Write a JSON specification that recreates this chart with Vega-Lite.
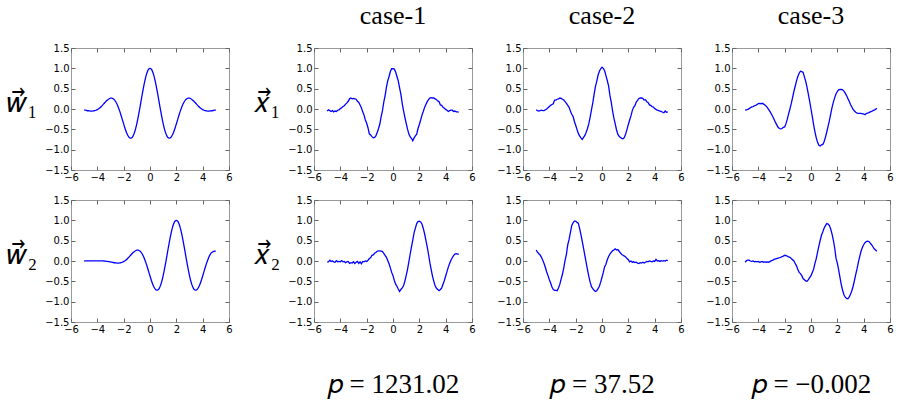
{
"$schema":"https://vega.github.io/schema/vega-lite/v6.json",
"background":"white",
"padding":{"left":6,"top":2,"right":5,"bottom":5},
"config":{
"view":{"stroke":"#999999","strokeWidth":1},
"axis":{"domain":false,"grid":false,"labelFont":"DejaVu Sans","labelFontSize":10,"labelColor":"#000000","tickColor":"#666666","tickSize":-4,"tickWidth":1,"labelPadding":6,"labelFlush":false,"labelOverlap":false,"titleFont":"Liberation Serif","titleFontWeight":"normal","titleColor":"#000000"},
"title":{"font":"Liberation Serif","fontSize":26,"fontWeight":"normal","color":"#000000","frame":"group","anchor":"middle","baseline":"alphabetic","offset":14}
},
"datasets":{
"w1":[{"x":-5,"y":-0.024},{"x":-4.9,"y":-0.03},{"x":-4.8,"y":-0.037},{"x":-4.7,"y":-0.043},{"x":-4.6,"y":-0.047},{"x":-4.5,"y":-0.05},{"x":-4.4,"y":-0.051},{"x":-4.3,"y":-0.048},{"x":-4.2,"y":-0.042},{"x":-4.1,"y":-0.031},{"x":-4,"y":-0.015},{"x":-3.9,"y":0.006},{"x":-3.8,"y":0.032},{"x":-3.7,"y":0.062},{"x":-3.6,"y":0.096},{"x":-3.5,"y":0.131},{"x":-3.4,"y":0.167},{"x":-3.3,"y":0.201},{"x":-3.2,"y":0.23},{"x":-3.1,"y":0.253},{"x":-3,"y":0.265},{"x":-2.9,"y":0.266},{"x":-2.8,"y":0.253},{"x":-2.7,"y":0.224},{"x":-2.6,"y":0.178},{"x":-2.5,"y":0.116},{"x":-2.4,"y":0.038},{"x":-2.3,"y":-0.053},{"x":-2.2,"y":-0.154},{"x":-2.1,"y":-0.261},{"x":-2,"y":-0.369},{"x":-1.9,"y":-0.472},{"x":-1.8,"y":-0.565},{"x":-1.7,"y":-0.64},{"x":-1.6,"y":-0.693},{"x":-1.5,"y":-0.718},{"x":-1.4,"y":-0.712},{"x":-1.3,"y":-0.673},{"x":-1.2,"y":-0.6},{"x":-1.1,"y":-0.495},{"x":-1,"y":-0.361},{"x":-0.9,"y":-0.202},{"x":-0.8,"y":-0.027},{"x":-0.7,"y":0.159},{"x":-0.6,"y":0.344},{"x":-0.5,"y":0.521},{"x":-0.4,"y":0.681},{"x":-0.3,"y":0.815},{"x":-0.2,"y":0.916},{"x":-0.1,"y":0.979},{"x":0,"y":1},{"x":0.1,"y":0.979},{"x":0.2,"y":0.916},{"x":0.3,"y":0.815},{"x":0.4,"y":0.681},{"x":0.5,"y":0.521},{"x":0.6,"y":0.344},{"x":0.7,"y":0.159},{"x":0.8,"y":-0.027},{"x":0.9,"y":-0.202},{"x":1,"y":-0.361},{"x":1.1,"y":-0.495},{"x":1.2,"y":-0.6},{"x":1.3,"y":-0.673},{"x":1.4,"y":-0.712},{"x":1.5,"y":-0.718},{"x":1.6,"y":-0.693},{"x":1.7,"y":-0.64},{"x":1.8,"y":-0.565},{"x":1.9,"y":-0.472},{"x":2,"y":-0.369},{"x":2.1,"y":-0.261},{"x":2.2,"y":-0.154},{"x":2.3,"y":-0.053},{"x":2.4,"y":0.038},{"x":2.5,"y":0.116},{"x":2.6,"y":0.178},{"x":2.7,"y":0.224},{"x":2.8,"y":0.253},{"x":2.9,"y":0.266},{"x":3,"y":0.265},{"x":3.1,"y":0.253},{"x":3.2,"y":0.23},{"x":3.3,"y":0.201},{"x":3.4,"y":0.167},{"x":3.5,"y":0.131},{"x":3.6,"y":0.096},{"x":3.7,"y":0.062},{"x":3.8,"y":0.032},{"x":3.9,"y":0.006},{"x":4,"y":-0.015},{"x":4.1,"y":-0.031},{"x":4.2,"y":-0.042},{"x":4.3,"y":-0.048},{"x":4.4,"y":-0.051},{"x":4.5,"y":-0.05},{"x":4.6,"y":-0.047},{"x":4.7,"y":-0.043},{"x":4.8,"y":-0.037},{"x":4.9,"y":-0.03},{"x":5,"y":-0.024}],
"w2":[{"x":-5,"y":0},{"x":-4.9,"y":0.001},{"x":-4.8,"y":0.001},{"x":-4.7,"y":0.001},{"x":-4.6,"y":0.002},{"x":-4.5,"y":0.002},{"x":-4.4,"y":0.003},{"x":-4.3,"y":0.003},{"x":-4.2,"y":0.004},{"x":-4.1,"y":0.004},{"x":-4,"y":0.005},{"x":-3.9,"y":0.005},{"x":-3.8,"y":0.005},{"x":-3.7,"y":0.004},{"x":-3.6,"y":0.002},{"x":-3.5,"y":0},{"x":-3.4,"y":-0.003},{"x":-3.3,"y":-0.007},{"x":-3.2,"y":-0.012},{"x":-3.1,"y":-0.017},{"x":-3,"y":-0.024},{"x":-2.9,"y":-0.03},{"x":-2.8,"y":-0.037},{"x":-2.7,"y":-0.043},{"x":-2.6,"y":-0.047},{"x":-2.5,"y":-0.05},{"x":-2.4,"y":-0.051},{"x":-2.3,"y":-0.048},{"x":-2.2,"y":-0.042},{"x":-2.1,"y":-0.031},{"x":-2,"y":-0.015},{"x":-1.9,"y":0.006},{"x":-1.8,"y":0.032},{"x":-1.7,"y":0.062},{"x":-1.6,"y":0.096},{"x":-1.5,"y":0.131},{"x":-1.4,"y":0.167},{"x":-1.3,"y":0.201},{"x":-1.2,"y":0.23},{"x":-1.1,"y":0.253},{"x":-1,"y":0.265},{"x":-0.9,"y":0.266},{"x":-0.8,"y":0.253},{"x":-0.7,"y":0.224},{"x":-0.6,"y":0.178},{"x":-0.5,"y":0.116},{"x":-0.4,"y":0.038},{"x":-0.3,"y":-0.053},{"x":-0.2,"y":-0.154},{"x":-0.1,"y":-0.261},{"x":0,"y":-0.369},{"x":0.1,"y":-0.472},{"x":0.2,"y":-0.565},{"x":0.3,"y":-0.64},{"x":0.4,"y":-0.693},{"x":0.5,"y":-0.718},{"x":0.6,"y":-0.712},{"x":0.7,"y":-0.673},{"x":0.8,"y":-0.6},{"x":0.9,"y":-0.495},{"x":1,"y":-0.361},{"x":1.1,"y":-0.202},{"x":1.2,"y":-0.027},{"x":1.3,"y":0.159},{"x":1.4,"y":0.344},{"x":1.5,"y":0.521},{"x":1.6,"y":0.681},{"x":1.7,"y":0.815},{"x":1.8,"y":0.916},{"x":1.9,"y":0.979},{"x":2,"y":1},{"x":2.1,"y":0.979},{"x":2.2,"y":0.916},{"x":2.3,"y":0.815},{"x":2.4,"y":0.681},{"x":2.5,"y":0.521},{"x":2.6,"y":0.344},{"x":2.7,"y":0.159},{"x":2.8,"y":-0.027},{"x":2.9,"y":-0.202},{"x":3,"y":-0.361},{"x":3.1,"y":-0.495},{"x":3.2,"y":-0.6},{"x":3.3,"y":-0.673},{"x":3.4,"y":-0.712},{"x":3.5,"y":-0.718},{"x":3.6,"y":-0.693},{"x":3.7,"y":-0.64},{"x":3.8,"y":-0.565},{"x":3.9,"y":-0.472},{"x":4,"y":-0.369},{"x":4.1,"y":-0.261},{"x":4.2,"y":-0.154},{"x":4.3,"y":-0.053},{"x":4.4,"y":0.038},{"x":4.5,"y":0.116},{"x":4.6,"y":0.178},{"x":4.7,"y":0.21},{"x":4.8,"y":0.23},{"x":4.9,"y":0.24},{"x":5,"y":0.245}],
"a1":[{"x":-5,"y":-0.05},{"x":-4.9,"y":-0.02},{"x":-4.8,"y":-0.04},{"x":-4.7,"y":-0.06},{"x":-4.6,"y":-0.04},{"x":-4.5,"y":-0.07},{"x":-4.4,"y":-0.05},{"x":-4.3,"y":-0.06},{"x":-4.2,"y":-0.03},{"x":-4.1,"y":-0.02},{"x":-4,"y":0.01},{"x":-3.9,"y":0.03},{"x":-3.8,"y":0.06},{"x":-3.7,"y":0.08},{"x":-3.6,"y":0.12},{"x":-3.5,"y":0.15},{"x":-3.4,"y":0.19},{"x":-3.3,"y":0.25},{"x":-3.2,"y":0.27},{"x":-3.1,"y":0.25},{"x":-3,"y":0.26},{"x":-2.9,"y":0.25},{"x":-2.8,"y":0.24},{"x":-2.7,"y":0.19},{"x":-2.6,"y":0.16},{"x":-2.5,"y":0.1},{"x":-2.4,"y":0.03},{"x":-2.3,"y":-0.07},{"x":-2.2,"y":-0.15},{"x":-2.1,"y":-0.27},{"x":-2,"y":-0.35},{"x":-1.9,"y":-0.46},{"x":-1.8,"y":-0.61},{"x":-1.7,"y":-0.64},{"x":-1.6,"y":-0.68},{"x":-1.5,"y":-0.71},{"x":-1.4,"y":-0.7},{"x":-1.3,"y":-0.66},{"x":-1.2,"y":-0.58},{"x":-1.1,"y":-0.48},{"x":-1,"y":-0.37},{"x":-0.9,"y":-0.19},{"x":-0.8,"y":-0.04},{"x":-0.7,"y":0.17},{"x":-0.6,"y":0.33},{"x":-0.5,"y":0.53},{"x":-0.4,"y":0.69},{"x":-0.3,"y":0.8},{"x":-0.2,"y":0.92},{"x":-0.1,"y":0.99},{"x":0,"y":0.99},{"x":0.1,"y":0.98},{"x":0.2,"y":0.91},{"x":0.3,"y":0.8},{"x":0.4,"y":0.69},{"x":0.5,"y":0.52},{"x":0.6,"y":0.36},{"x":0.7,"y":0.14},{"x":0.8,"y":-0.04},{"x":0.9,"y":-0.2},{"x":1,"y":-0.35},{"x":1.1,"y":-0.49},{"x":1.2,"y":-0.61},{"x":1.3,"y":-0.68},{"x":1.4,"y":-0.72},{"x":1.5,"y":-0.78},{"x":1.6,"y":-0.71},{"x":1.7,"y":-0.66},{"x":1.8,"y":-0.62},{"x":1.9,"y":-0.48},{"x":2,"y":-0.38},{"x":2.1,"y":-0.27},{"x":2.2,"y":-0.15},{"x":2.3,"y":-0.06},{"x":2.4,"y":0.04},{"x":2.5,"y":0.11},{"x":2.6,"y":0.18},{"x":2.7,"y":0.23},{"x":2.8,"y":0.27},{"x":2.9,"y":0.28},{"x":3,"y":0.27},{"x":3.1,"y":0.27},{"x":3.2,"y":0.25},{"x":3.3,"y":0.23},{"x":3.4,"y":0.2},{"x":3.5,"y":0.18},{"x":3.6,"y":0.1},{"x":3.7,"y":0.09},{"x":3.8,"y":0.04},{"x":3.9,"y":0.02},{"x":4,"y":-0.01},{"x":4.1,"y":-0.03},{"x":4.2,"y":-0.06},{"x":4.3,"y":-0.04},{"x":4.4,"y":-0.03},{"x":4.5,"y":-0.03},{"x":4.6,"y":-0.06},{"x":4.7,"y":-0.05},{"x":4.8,"y":-0.07},{"x":4.9,"y":-0.07},{"x":5,"y":-0.08}],
"a2":[{"x":-5,"y":-0.02},{"x":-4.9,"y":-0.02},{"x":-4.8,"y":0.02},{"x":-4.7,"y":-0.01},{"x":-4.6,"y":0},{"x":-4.5,"y":-0.02},{"x":-4.4,"y":-0.03},{"x":-4.3,"y":0.01},{"x":-4.2,"y":-0.02},{"x":-4.1,"y":-0.01},{"x":-4,"y":-0.02},{"x":-3.9,"y":0.01},{"x":-3.8,"y":-0.02},{"x":-3.7,"y":-0.01},{"x":-3.6,"y":-0.04},{"x":-3.5,"y":-0.02},{"x":-3.4,"y":-0.01},{"x":-3.3,"y":-0.06},{"x":-3.2,"y":-0.04},{"x":-3.1,"y":-0.05},{"x":-3,"y":-0.02},{"x":-2.9,"y":-0.06},{"x":-2.8,"y":-0.03},{"x":-2.7,"y":-0.01},{"x":-2.6,"y":-0.06},{"x":-2.5,"y":-0.02},{"x":-2.4,"y":-0.07},{"x":-2.3,"y":-0.01},{"x":-2.2,"y":-0.02},{"x":-2.1,"y":0},{"x":-2,"y":-0.01},{"x":-1.9,"y":0.02},{"x":-1.8,"y":0.06},{"x":-1.7,"y":0.08},{"x":-1.6,"y":0.14},{"x":-1.5,"y":0.15},{"x":-1.4,"y":0.19},{"x":-1.3,"y":0.21},{"x":-1.2,"y":0.24},{"x":-1.1,"y":0.25},{"x":-1,"y":0.25},{"x":-0.9,"y":0.24},{"x":-0.8,"y":0.23},{"x":-0.7,"y":0.19},{"x":-0.6,"y":0.14},{"x":-0.5,"y":0.09},{"x":-0.4,"y":0.01},{"x":-0.3,"y":-0.07},{"x":-0.2,"y":-0.17},{"x":-0.1,"y":-0.28},{"x":0,"y":-0.36},{"x":0.1,"y":-0.48},{"x":0.2,"y":-0.57},{"x":0.3,"y":-0.62},{"x":0.4,"y":-0.69},{"x":0.5,"y":-0.75},{"x":0.6,"y":-0.7},{"x":0.7,"y":-0.66},{"x":0.8,"y":-0.61},{"x":0.9,"y":-0.5},{"x":1,"y":-0.36},{"x":1.1,"y":-0.21},{"x":1.2,"y":-0.03},{"x":1.3,"y":0.16},{"x":1.4,"y":0.34},{"x":1.5,"y":0.51},{"x":1.6,"y":0.69},{"x":1.7,"y":0.81},{"x":1.8,"y":0.92},{"x":1.9,"y":0.97},{"x":2,"y":0.98},{"x":2.1,"y":0.96},{"x":2.2,"y":0.91},{"x":2.3,"y":0.8},{"x":2.4,"y":0.67},{"x":2.5,"y":0.51},{"x":2.6,"y":0.35},{"x":2.7,"y":0.16},{"x":2.8,"y":-0.04},{"x":2.9,"y":-0.21},{"x":3,"y":-0.37},{"x":3.1,"y":-0.5},{"x":3.2,"y":-0.61},{"x":3.3,"y":-0.67},{"x":3.4,"y":-0.7},{"x":3.5,"y":-0.73},{"x":3.6,"y":-0.7},{"x":3.7,"y":-0.66},{"x":3.8,"y":-0.57},{"x":3.9,"y":-0.48},{"x":4,"y":-0.37},{"x":4.1,"y":-0.26},{"x":4.2,"y":-0.15},{"x":4.3,"y":-0.06},{"x":4.4,"y":0.02},{"x":4.5,"y":0.08},{"x":4.6,"y":0.13},{"x":4.7,"y":0.17},{"x":4.8,"y":0.18},{"x":4.9,"y":0.17},{"x":5,"y":0.17}],
"b1":[{"x":-5,"y":-0.02},{"x":-4.9,"y":-0.04},{"x":-4.8,"y":-0.05},{"x":-4.7,"y":-0.04},{"x":-4.6,"y":-0.03},{"x":-4.5,"y":-0.04},{"x":-4.4,"y":-0.04},{"x":-4.3,"y":-0.02},{"x":-4.2,"y":0},{"x":-4.1,"y":0.03},{"x":-4,"y":0.06},{"x":-3.9,"y":0.09},{"x":-3.8,"y":0.11},{"x":-3.7,"y":0.13},{"x":-3.6,"y":0.22},{"x":-3.5,"y":0.22},{"x":-3.4,"y":0.24},{"x":-3.3,"y":0.25},{"x":-3.2,"y":0.27},{"x":-3.1,"y":0.26},{"x":-3,"y":0.24},{"x":-2.9,"y":0.22},{"x":-2.8,"y":0.18},{"x":-2.7,"y":0.14},{"x":-2.6,"y":0.09},{"x":-2.5,"y":0.04},{"x":-2.4,"y":-0.05},{"x":-2.3,"y":-0.13},{"x":-2.2,"y":-0.18},{"x":-2.1,"y":-0.3},{"x":-2,"y":-0.4},{"x":-1.9,"y":-0.5},{"x":-1.8,"y":-0.6},{"x":-1.7,"y":-0.66},{"x":-1.6,"y":-0.71},{"x":-1.5,"y":-0.75},{"x":-1.4,"y":-0.7},{"x":-1.3,"y":-0.65},{"x":-1.2,"y":-0.57},{"x":-1.1,"y":-0.48},{"x":-1,"y":-0.36},{"x":-0.9,"y":-0.2},{"x":-0.8,"y":-0.02},{"x":-0.7,"y":0.15},{"x":-0.6,"y":0.36},{"x":-0.5,"y":0.55},{"x":-0.4,"y":0.68},{"x":-0.3,"y":0.83},{"x":-0.2,"y":0.93},{"x":-0.1,"y":0.99},{"x":0,"y":1.03},{"x":0.1,"y":1},{"x":0.2,"y":0.94},{"x":0.3,"y":0.82},{"x":0.4,"y":0.7},{"x":0.5,"y":0.57},{"x":0.6,"y":0.34},{"x":0.7,"y":0.17},{"x":0.8,"y":-0.04},{"x":0.9,"y":-0.22},{"x":1,"y":-0.36},{"x":1.1,"y":-0.51},{"x":1.2,"y":-0.62},{"x":1.3,"y":-0.67},{"x":1.4,"y":-0.7},{"x":1.5,"y":-0.72},{"x":1.6,"y":-0.73},{"x":1.7,"y":-0.7},{"x":1.8,"y":-0.61},{"x":1.9,"y":-0.5},{"x":2,"y":-0.38},{"x":2.1,"y":-0.27},{"x":2.2,"y":-0.17},{"x":2.3,"y":-0.04},{"x":2.4,"y":0.04},{"x":2.5,"y":0.08},{"x":2.6,"y":0.17},{"x":2.7,"y":0.21},{"x":2.8,"y":0.26},{"x":2.9,"y":0.27},{"x":3,"y":0.27},{"x":3.1,"y":0.26},{"x":3.2,"y":0.22},{"x":3.3,"y":0.23},{"x":3.4,"y":0.18},{"x":3.5,"y":0.16},{"x":3.6,"y":0.1},{"x":3.7,"y":0.09},{"x":3.8,"y":0.06},{"x":3.9,"y":0.05},{"x":4,"y":0.01},{"x":4.1,"y":-0.01},{"x":4.2,"y":-0.03},{"x":4.3,"y":-0.04},{"x":4.4,"y":-0.05},{"x":4.5,"y":-0.06},{"x":4.6,"y":-0.08},{"x":4.7,"y":-0.09},{"x":4.8,"y":-0.05},{"x":4.9,"y":-0.08},{"x":5,"y":-0.07}],
"b2":[{"x":-5,"y":0.27},{"x":-4.9,"y":0.22},{"x":-4.8,"y":0.18},{"x":-4.7,"y":0.15},{"x":-4.6,"y":0.09},{"x":-4.5,"y":0.02},{"x":-4.4,"y":-0.06},{"x":-4.3,"y":-0.16},{"x":-4.2,"y":-0.27},{"x":-4.1,"y":-0.36},{"x":-4,"y":-0.46},{"x":-3.9,"y":-0.54},{"x":-3.8,"y":-0.64},{"x":-3.7,"y":-0.7},{"x":-3.6,"y":-0.72},{"x":-3.5,"y":-0.72},{"x":-3.4,"y":-0.73},{"x":-3.3,"y":-0.66},{"x":-3.2,"y":-0.57},{"x":-3.1,"y":-0.44},{"x":-3,"y":-0.32},{"x":-2.9,"y":-0.16},{"x":-2.8,"y":0.02},{"x":-2.7,"y":0.17},{"x":-2.6,"y":0.4},{"x":-2.5,"y":0.53},{"x":-2.4,"y":0.7},{"x":-2.3,"y":0.87},{"x":-2.2,"y":0.94},{"x":-2.1,"y":0.98},{"x":-2,"y":0.98},{"x":-1.9,"y":0.95},{"x":-1.8,"y":0.93},{"x":-1.7,"y":0.8},{"x":-1.6,"y":0.65},{"x":-1.5,"y":0.48},{"x":-1.4,"y":0.31},{"x":-1.3,"y":0.13},{"x":-1.2,"y":-0.04},{"x":-1.1,"y":-0.22},{"x":-1,"y":-0.38},{"x":-0.9,"y":-0.52},{"x":-0.8,"y":-0.63},{"x":-0.7,"y":-0.68},{"x":-0.6,"y":-0.72},{"x":-0.5,"y":-0.75},{"x":-0.4,"y":-0.73},{"x":-0.3,"y":-0.68},{"x":-0.2,"y":-0.62},{"x":-0.1,"y":-0.52},{"x":0,"y":-0.4},{"x":0.1,"y":-0.28},{"x":0.2,"y":-0.14},{"x":0.3,"y":-0.08},{"x":0.4,"y":0.03},{"x":0.5,"y":0.11},{"x":0.6,"y":0.17},{"x":0.7,"y":0.21},{"x":0.8,"y":0.25},{"x":0.9,"y":0.27},{"x":1,"y":0.3},{"x":1.1,"y":0.27},{"x":1.2,"y":0.28},{"x":1.3,"y":0.24},{"x":1.4,"y":0.2},{"x":1.5,"y":0.16},{"x":1.6,"y":0.14},{"x":1.7,"y":0.12},{"x":1.8,"y":0.1},{"x":1.9,"y":0.06},{"x":2,"y":0.03},{"x":2.1,"y":-0.02},{"x":2.2,"y":0},{"x":2.3,"y":-0.03},{"x":2.4,"y":-0.02},{"x":2.5,"y":-0.04},{"x":2.6,"y":-0.03},{"x":2.7,"y":-0.05},{"x":2.8,"y":-0.06},{"x":2.9,"y":-0.04},{"x":3,"y":-0.05},{"x":3.1,"y":-0.03},{"x":3.2,"y":-0.05},{"x":3.3,"y":-0.03},{"x":3.4,"y":-0.01},{"x":3.5,"y":-0.02},{"x":3.6,"y":0},{"x":3.7,"y":-0.01},{"x":3.8,"y":-0.02},{"x":3.9,"y":0},{"x":4,"y":-0.01},{"x":4.1,"y":0.04},{"x":4.2,"y":0},{"x":4.3,"y":0.01},{"x":4.4,"y":-0.01},{"x":4.5,"y":0.01},{"x":4.6,"y":0},{"x":4.7,"y":0.01},{"x":4.8,"y":0},{"x":4.9,"y":0.02},{"x":5,"y":0.01}],
"c1":[{"x":-5,"y":-0.03},{"x":-4.9,"y":-0.02},{"x":-4.8,"y":-0.01},{"x":-4.7,"y":0.01},{"x":-4.6,"y":0.03},{"x":-4.5,"y":0.05},{"x":-4.4,"y":0.06},{"x":-4.3,"y":0.08},{"x":-4.2,"y":0.09},{"x":-4.1,"y":0.11},{"x":-4,"y":0.13},{"x":-3.9,"y":0.14},{"x":-3.8,"y":0.13},{"x":-3.7,"y":0.14},{"x":-3.6,"y":0.12},{"x":-3.5,"y":0.1},{"x":-3.4,"y":0.07},{"x":-3.3,"y":0.03},{"x":-3.2,"y":-0.02},{"x":-3.1,"y":-0.07},{"x":-3,"y":-0.13},{"x":-2.9,"y":-0.19},{"x":-2.8,"y":-0.26},{"x":-2.7,"y":-0.33},{"x":-2.6,"y":-0.39},{"x":-2.5,"y":-0.45},{"x":-2.4,"y":-0.48},{"x":-2.3,"y":-0.49},{"x":-2.2,"y":-0.48},{"x":-2.1,"y":-0.45},{"x":-2,"y":-0.44},{"x":-1.9,"y":-0.36},{"x":-1.8,"y":-0.25},{"x":-1.7,"y":-0.12},{"x":-1.6,"y":0},{"x":-1.5,"y":0.13},{"x":-1.4,"y":0.28},{"x":-1.3,"y":0.43},{"x":-1.2,"y":0.56},{"x":-1.1,"y":0.69},{"x":-1,"y":0.8},{"x":-0.9,"y":0.88},{"x":-0.8,"y":0.93},{"x":-0.7,"y":0.92},{"x":-0.6,"y":0.9},{"x":-0.5,"y":0.79},{"x":-0.4,"y":0.68},{"x":-0.3,"y":0.53},{"x":-0.2,"y":0.36},{"x":-0.1,"y":0.19},{"x":0,"y":0},{"x":0.1,"y":-0.19},{"x":0.2,"y":-0.39},{"x":0.3,"y":-0.56},{"x":0.4,"y":-0.71},{"x":0.5,"y":-0.82},{"x":0.6,"y":-0.89},{"x":0.7,"y":-0.91},{"x":0.8,"y":-0.88},{"x":0.9,"y":-0.87},{"x":1,"y":-0.8},{"x":1.1,"y":-0.69},{"x":1.2,"y":-0.56},{"x":1.3,"y":-0.42},{"x":1.4,"y":-0.28},{"x":1.5,"y":-0.12},{"x":1.6,"y":0.04},{"x":1.7,"y":0.17},{"x":1.8,"y":0.28},{"x":1.9,"y":0.37},{"x":2,"y":0.43},{"x":2.1,"y":0.47},{"x":2.2,"y":0.48},{"x":2.3,"y":0.48},{"x":2.4,"y":0.47},{"x":2.5,"y":0.44},{"x":2.6,"y":0.39},{"x":2.7,"y":0.33},{"x":2.8,"y":0.26},{"x":2.9,"y":0.19},{"x":3,"y":0.11},{"x":3.1,"y":0.05},{"x":3.2,"y":-0.01},{"x":3.3,"y":-0.05},{"x":3.4,"y":-0.08},{"x":3.5,"y":-0.1},{"x":3.6,"y":-0.11},{"x":3.7,"y":-0.11},{"x":3.8,"y":-0.11},{"x":3.9,"y":-0.12},{"x":4,"y":-0.12},{"x":4.1,"y":-0.14},{"x":4.2,"y":-0.11},{"x":4.3,"y":-0.1},{"x":4.4,"y":-0.09},{"x":4.5,"y":-0.07},{"x":4.6,"y":-0.06},{"x":4.7,"y":-0.04},{"x":4.8,"y":-0.03},{"x":4.9,"y":-0.01},{"x":5,"y":0.02}],
"c2":[{"x":-5,"y":-0.03},{"x":-4.9,"y":0.01},{"x":-4.8,"y":0.02},{"x":-4.7,"y":0.02},{"x":-4.6,"y":0},{"x":-4.5,"y":-0.01},{"x":-4.4,"y":0},{"x":-4.3,"y":-0.02},{"x":-4.2,"y":-0.01},{"x":-4.1,"y":-0.02},{"x":-4,"y":-0.01},{"x":-3.9,"y":-0.03},{"x":-3.8,"y":-0.02},{"x":-3.7,"y":-0.01},{"x":-3.6,"y":-0.03},{"x":-3.5,"y":-0.02},{"x":-3.4,"y":-0.03},{"x":-3.3,"y":-0.02},{"x":-3.2,"y":-0.03},{"x":-3.1,"y":-0.01},{"x":-3,"y":0.01},{"x":-2.9,"y":0.02},{"x":-2.8,"y":0.04},{"x":-2.7,"y":0.05},{"x":-2.6,"y":0.06},{"x":-2.5,"y":0.07},{"x":-2.4,"y":0.08},{"x":-2.3,"y":0.09},{"x":-2.2,"y":0.11},{"x":-2.1,"y":0.12},{"x":-2,"y":0.14},{"x":-1.9,"y":0.13},{"x":-1.8,"y":0.12},{"x":-1.7,"y":0.1},{"x":-1.6,"y":0.09},{"x":-1.5,"y":0.06},{"x":-1.4,"y":0.03},{"x":-1.3,"y":0},{"x":-1.2,"y":-0.06},{"x":-1.1,"y":-0.12},{"x":-1,"y":-0.21},{"x":-0.9,"y":-0.28},{"x":-0.8,"y":-0.31},{"x":-0.7,"y":-0.36},{"x":-0.6,"y":-0.43},{"x":-0.5,"y":-0.46},{"x":-0.4,"y":-0.49},{"x":-0.3,"y":-0.5},{"x":-0.2,"y":-0.46},{"x":-0.1,"y":-0.41},{"x":0,"y":-0.36},{"x":0.1,"y":-0.28},{"x":0.2,"y":-0.2},{"x":0.3,"y":-0.06},{"x":0.4,"y":0.06},{"x":0.5,"y":0.22},{"x":0.6,"y":0.37},{"x":0.7,"y":0.51},{"x":0.8,"y":0.64},{"x":0.9,"y":0.72},{"x":1,"y":0.81},{"x":1.1,"y":0.87},{"x":1.2,"y":0.92},{"x":1.3,"y":0.91},{"x":1.4,"y":0.87},{"x":1.5,"y":0.78},{"x":1.6,"y":0.66},{"x":1.7,"y":0.51},{"x":1.8,"y":0.32},{"x":1.9,"y":0.07},{"x":2,"y":-0.05},{"x":2.1,"y":-0.22},{"x":2.2,"y":-0.4},{"x":2.3,"y":-0.58},{"x":2.4,"y":-0.72},{"x":2.5,"y":-0.83},{"x":2.6,"y":-0.89},{"x":2.7,"y":-0.92},{"x":2.8,"y":-0.93},{"x":2.9,"y":-0.89},{"x":3,"y":-0.82},{"x":3.1,"y":-0.73},{"x":3.2,"y":-0.62},{"x":3.3,"y":-0.48},{"x":3.4,"y":-0.33},{"x":3.5,"y":-0.19},{"x":3.6,"y":-0.03},{"x":3.7,"y":0.11},{"x":3.8,"y":0.24},{"x":3.9,"y":0.33},{"x":4,"y":0.4},{"x":4.1,"y":0.45},{"x":4.2,"y":0.48},{"x":4.3,"y":0.49},{"x":4.4,"y":0.48},{"x":4.5,"y":0.44},{"x":4.6,"y":0.4},{"x":4.7,"y":0.35},{"x":4.8,"y":0.3},{"x":4.9,"y":0.27},{"x":5,"y":0.24}]
},
"columns":4,
"align":"each",
"bounds":"full",
"spacing":{"row":11,"column":20},
"concat":[
{"width":158,"height":122,"title":{"text":"case-0","color":"#ffffff"},"data":{"name":"w1"},
"layer":[{"mark":{"type":"line","color":"#0000ff","strokeWidth":1.3,"interpolate":"monotone"},"encoding":{"x":{"field":"x","type":"quantitative","scale":{"domain":[-6,6],"nice":false,"zero":false},"axis":{"values":[-6,-4,-2,0,2,4,6],"format":"d","title":null}},"y":{"field":"y","type":"quantitative","scale":{"domain":[-1.5,1.5],"nice":false,"zero":false},"axis":{"values":[-1.5,-1,-0.5,0,0.5,1,1.5],"format":".1f","title":"𝑤⃗₁","titleAngle":0,"titleAlign":"right","titleBaseline":"middle","titleFontSize":28,"titlePadding":8,"titleY":55}}}},
{"mark":{"type":"line","strokeOpacity":0},"encoding":{"x":{"field":"x","type":"quantitative","axis":{"orient":"top","labels":false,"values":[-6,-4,-2,0,2,4,6],"title":null}},"y":{"field":"y","type":"quantitative","axis":{"orient":"right","labels":false,"values":[-1.5,-1,-0.5,0,0.5,1,1.5],"title":null}}}}],
"resolve":{"axis":{"x":"independent","y":"independent"}}},
{"width":158,"height":122,"title":{"text":"case-1"},"data":{"name":"a1"},
"layer":[{"mark":{"type":"line","color":"#0000ff","strokeWidth":1.3},"encoding":{"x":{"field":"x","type":"quantitative","scale":{"domain":[-6,6],"nice":false,"zero":false},"axis":{"values":[-6,-4,-2,0,2,4,6],"format":"d","title":null}},"y":{"field":"y","type":"quantitative","scale":{"domain":[-1.5,1.5],"nice":false,"zero":false},"axis":{"values":[-1.5,-1,-0.5,0,0.5,1,1.5],"format":".1f","title":"𝑥⃗₁","titleAngle":0,"titleAlign":"right","titleBaseline":"middle","titleFontSize":28,"titlePadding":8,"titleY":55}}}},
{"mark":{"type":"line","strokeOpacity":0},"encoding":{"x":{"field":"x","type":"quantitative","axis":{"orient":"top","labels":false,"values":[-6,-4,-2,0,2,4,6],"title":null}},"y":{"field":"y","type":"quantitative","axis":{"orient":"right","labels":false,"values":[-1.5,-1,-0.5,0,0.5,1,1.5],"title":null}}}}],
"resolve":{"axis":{"x":"independent","y":"independent"}}},
{"width":158,"height":122,"title":{"text":"case-2"},"data":{"name":"b1"},
"layer":[{"mark":{"type":"line","color":"#0000ff","strokeWidth":1.3},"encoding":{"x":{"field":"x","type":"quantitative","scale":{"domain":[-6,6],"nice":false,"zero":false},"axis":{"values":[-6,-4,-2,0,2,4,6],"format":"d","title":null}},"y":{"field":"y","type":"quantitative","scale":{"domain":[-1.5,1.5],"nice":false,"zero":false},"axis":{"values":[-1.5,-1,-0.5,0,0.5,1,1.5],"format":".1f","title":null}}}},
{"mark":{"type":"line","strokeOpacity":0},"encoding":{"x":{"field":"x","type":"quantitative","axis":{"orient":"top","labels":false,"values":[-6,-4,-2,0,2,4,6],"title":null}},"y":{"field":"y","type":"quantitative","axis":{"orient":"right","labels":false,"values":[-1.5,-1,-0.5,0,0.5,1,1.5],"title":null}}}}],
"resolve":{"axis":{"x":"independent","y":"independent"}}},
{"width":158,"height":122,"title":{"text":"case-3"},"data":{"name":"c1"},
"layer":[{"mark":{"type":"line","color":"#0000ff","strokeWidth":1.3},"encoding":{"x":{"field":"x","type":"quantitative","scale":{"domain":[-6,6],"nice":false,"zero":false},"axis":{"values":[-6,-4,-2,0,2,4,6],"format":"d","title":null}},"y":{"field":"y","type":"quantitative","scale":{"domain":[-1.5,1.5],"nice":false,"zero":false},"axis":{"values":[-1.5,-1,-0.5,0,0.5,1,1.5],"format":".1f","title":null}}}},
{"mark":{"type":"line","strokeOpacity":0},"encoding":{"x":{"field":"x","type":"quantitative","axis":{"orient":"top","labels":false,"values":[-6,-4,-2,0,2,4,6],"title":null}},"y":{"field":"y","type":"quantitative","axis":{"orient":"right","labels":false,"values":[-1.5,-1,-0.5,0,0.5,1,1.5],"title":null}}}}],
"resolve":{"axis":{"x":"independent","y":"independent"}}},
{"width":158,"height":122,"data":{"name":"w2"},
"layer":[{"mark":{"type":"line","color":"#0000ff","strokeWidth":1.3,"interpolate":"monotone"},"encoding":{"x":{"field":"x","type":"quantitative","scale":{"domain":[-6,6],"nice":false,"zero":false},"axis":{"values":[-6,-4,-2,0,2,4,6],"format":"d","title":null}},"y":{"field":"y","type":"quantitative","scale":{"domain":[-1.5,1.5],"nice":false,"zero":false},"axis":{"values":[-1.5,-1,-0.5,0,0.5,1,1.5],"format":".1f","title":"𝑤⃗₂","titleAngle":0,"titleAlign":"right","titleBaseline":"middle","titleFontSize":28,"titlePadding":8,"titleY":55}}}},
{"mark":{"type":"line","strokeOpacity":0},"encoding":{"x":{"field":"x","type":"quantitative","axis":{"orient":"top","labels":false,"values":[-6,-4,-2,0,2,4,6],"title":null}},"y":{"field":"y","type":"quantitative","axis":{"orient":"right","labels":false,"values":[-1.5,-1,-0.5,0,0.5,1,1.5],"title":null}}}}],
"resolve":{"axis":{"x":"independent","y":"independent"}}},
{"width":158,"height":122,"data":{"name":"a2"},
"layer":[{"mark":{"type":"line","color":"#0000ff","strokeWidth":1.3},"encoding":{"x":{"field":"x","type":"quantitative","scale":{"domain":[-6,6],"nice":false,"zero":false},"axis":{"values":[-6,-4,-2,0,2,4,6],"format":"d","title":"𝑝 = 1231.02","titleFontSize":27,"titleBaseline":"alphabetic","titleY":70}},"y":{"field":"y","type":"quantitative","scale":{"domain":[-1.5,1.5],"nice":false,"zero":false},"axis":{"values":[-1.5,-1,-0.5,0,0.5,1,1.5],"format":".1f","title":"𝑥⃗₂","titleAngle":0,"titleAlign":"right","titleBaseline":"middle","titleFontSize":28,"titlePadding":8,"titleY":55}}}},
{"mark":{"type":"line","strokeOpacity":0},"encoding":{"x":{"field":"x","type":"quantitative","axis":{"orient":"top","labels":false,"values":[-6,-4,-2,0,2,4,6],"title":null}},"y":{"field":"y","type":"quantitative","axis":{"orient":"right","labels":false,"values":[-1.5,-1,-0.5,0,0.5,1,1.5],"title":null}}}}],
"resolve":{"axis":{"x":"independent","y":"independent"}}},
{"width":158,"height":122,"data":{"name":"b2"},
"layer":[{"mark":{"type":"line","color":"#0000ff","strokeWidth":1.3},"encoding":{"x":{"field":"x","type":"quantitative","scale":{"domain":[-6,6],"nice":false,"zero":false},"axis":{"values":[-6,-4,-2,0,2,4,6],"format":"d","title":"𝑝 = 37.52","titleFontSize":27,"titleBaseline":"alphabetic","titleY":70}},"y":{"field":"y","type":"quantitative","scale":{"domain":[-1.5,1.5],"nice":false,"zero":false},"axis":{"values":[-1.5,-1,-0.5,0,0.5,1,1.5],"format":".1f","title":null}}}},
{"mark":{"type":"line","strokeOpacity":0},"encoding":{"x":{"field":"x","type":"quantitative","axis":{"orient":"top","labels":false,"values":[-6,-4,-2,0,2,4,6],"title":null}},"y":{"field":"y","type":"quantitative","axis":{"orient":"right","labels":false,"values":[-1.5,-1,-0.5,0,0.5,1,1.5],"title":null}}}}],
"resolve":{"axis":{"x":"independent","y":"independent"}}},
{"width":158,"height":122,"data":{"name":"c2"},
"layer":[{"mark":{"type":"line","color":"#0000ff","strokeWidth":1.3},"encoding":{"x":{"field":"x","type":"quantitative","scale":{"domain":[-6,6],"nice":false,"zero":false},"axis":{"values":[-6,-4,-2,0,2,4,6],"format":"d","title":"𝑝 = −0.002","titleFontSize":27,"titleBaseline":"alphabetic","titleY":70}},"y":{"field":"y","type":"quantitative","scale":{"domain":[-1.5,1.5],"nice":false,"zero":false},"axis":{"values":[-1.5,-1,-0.5,0,0.5,1,1.5],"format":".1f","title":null}}}},
{"mark":{"type":"line","strokeOpacity":0},"encoding":{"x":{"field":"x","type":"quantitative","axis":{"orient":"top","labels":false,"values":[-6,-4,-2,0,2,4,6],"title":null}},"y":{"field":"y","type":"quantitative","axis":{"orient":"right","labels":false,"values":[-1.5,-1,-0.5,0,0.5,1,1.5],"title":null}}}}],
"resolve":{"axis":{"x":"independent","y":"independent"}}}
]
}
